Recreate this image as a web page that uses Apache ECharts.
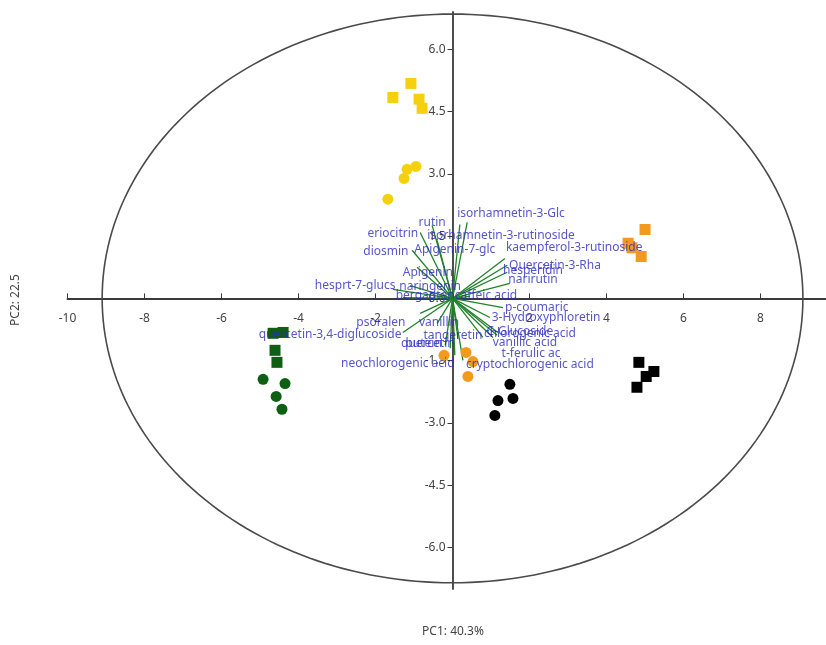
<!DOCTYPE html>
<html><head><meta charset="utf-8">
<script src="https://cdn.jsdelivr.net/npm/echarts@6/dist/echarts.min.js"></script>
<style>html,body{margin:0;padding:0;background:#fff}#c{width:826px;height:645px}</style>
</head><body><div id="c"></div>
<script>
// ---- Data ----
const xTicks = [-10, -8, -6, -4, -2, 2, 4, 6, 8];
const yTicks = [-6, -4.5, -3, -1.5, 0, 1.5, 3, 4.5, 6];
const xTickLabels = ['-10', '-8', '-6', '-4', '-2', '2', '4', '6', '8'];
const yTickLabels = ['-6.0', '-4.5', '-3.0', '-1.5', '0.0', '1.5', '3.0', '4.5', '6.0'];

const yellowSquares = [[-1.55, 4.84], [-1.08, 5.18], [-0.87, 4.80], [-0.79, 4.58]];
const yellowCircles = [[-0.95, 3.18], [-1.18, 3.11], [-1.26, 2.89], [-1.68, 2.39]];
const orangeSquares = [[5.00, 1.66], [4.56, 1.33], [4.66, 1.22], [4.90, 1.01]];
const orangeCircles = [[-0.22, -1.37], [0.35, -1.30], [0.53, -1.52], [0.40, -1.88]];
const blackSquares = [[4.84, -1.54], [5.23, -1.76], [5.03, -1.88], [4.79, -2.14]];
const blackCircles = [[1.49, -2.07], [1.57, -2.41], [1.18, -2.46], [1.10, -2.82]];
const greenSquares = [[-4.66, -0.84], [-4.40, -0.82], [-4.61, -1.25], [-4.56, -1.54]];
const greenCircles = [[-4.92, -1.95], [-4.35, -2.05], [-4.58, -2.36], [-4.43, -2.67]];

const loadingNames = ['isorhamnetin-3-Glc', 'rutin', 'isorhamnetin-3-rutinoside', 'eriocitrin', 'diosmin',
  'Apigenin-7-glc', 'kaempferol-3-rutinoside', 'Quercetin-3-Rha', 'hesperidin', 'narirutin',
  'Apigenin', 'hesprt-7-glucs', 'naringenin', 'bergapten', 'caffeic acid',
  'p-coumaric', '3-Hydroxyphloretin', 'psoralen', 'vanillin', 'quercetin-3,4-diglucoside',
  'tangeretin', 'quercetin', 'butein', 'chlorogenic acid', 'C-Glucoside',
  'vanillic acid', 't-ferulic ac', 'cryptochlorogenic acid', 'neochlorogenic acid'];
const loadingPC1 = [0.38, -0.53, 0.19, -0.84, -1.05, -0.40, 1.36, 1.42, 1.42, 1.49,
  -0.92, -1.55, -1.10, -1.29, 0.45, 1.31, 0.97, -0.84, -0.40, -1.29,
  0.14, -0.19, -0.06, 1.18, 1.05, 0.79, 1.16, 0.27, 0.06];
const loadingPC2 = [1.83, 1.76, 1.78, 1.59, 1.16, 1.40, 0.96, 0.80, 0.63, 0.36,
  0.75, 0.22, 0.31, 0.02, 0.05, -0.22, -0.46, -0.36, -0.60, -0.82,
  -0.96, -1.13, -1.20, -0.82, -0.94, -0.94, -0.89, -1.49, -1.37];
const labelPC1 = [1.52, -0.53, 1.26, -1.55, -1.73, 0.06, 3.16, 2.66, 2.09, 2.09,
  -0.64, -2.53, -0.58, -0.71, 0.87, 2.19, 2.43, -1.86, -0.35, -3.18,
  0.01, -0.64, -0.75, 2.01, 1.75, 1.88, 2.04, 2.01, -1.42];
const labelPC2 = [2.05, 1.83, 1.52, 1.57, 1.13, 1.18, 1.23, 0.80, 0.67, 0.46,
  0.63, 0.31, 0.29, 0.07, 0.07, -0.22, -0.46, -0.58, -0.58, -0.87,
  -0.89, -1.08, -1.08, -0.84, -0.80, -1.06, -1.33, -1.59, -1.57];

const ellipseRadiusPC1 = 9.1;
const ellipseRadiusPC2 = 6.85;

// ---- Chart ----
const FONT = '"Noto Sans", "Open Sans", sans-serif';
const chart = echarts.init(document.getElementById('c'), null, {renderer: 'canvas'});

const loadingLines = loadingNames.map((n, i) => [loadingPC1[i], loadingPC2[i]]);
const loadingLabels = loadingNames.map((n, i) => ({name: n, value: [labelPC1[i], labelPC2[i]]}));
const xLabelData = xTicks.map((v, i) => ({name: xTickLabels[i], value: [v, 0]}));
const yLabelData = yTicks.map((v, i) => ({name: yTickLabels[i], value: [0, v]}));

function scoreSeries(data, color, symbol) {
  return {
    type: 'scatter', data: data, symbol: symbol, symbolSize: 11, z: 3,
    itemStyle: {color: color, opacity: 1}
  };
}

const option = {
  animation: false,
  backgroundColor: '#fff',
  grid: {left: 67.5, right: 0, top: 12, bottom: 56, containLabel: false},
  xAxis: {
    type: 'value', min: -10, max: 9.7,
    axisLine: {onZero: true, lineStyle: {color: '#3a3a3a', width: 1.8}},
    axisTick: {show: true, inside: true, length: 5, customValues: xTicks, lineStyle: {color: '#3a3a3a', width: 1}},
    axisLabel: {show: false},
    splitLine: {show: false}
  },
  yAxis: {
    type: 'value', min: -7.0, max: 6.9,
    axisLine: {onZero: true, lineStyle: {color: '#3a3a3a', width: 1.8}},
    axisTick: {show: true, length: 5, customValues: yTicks, lineStyle: {color: '#3a3a3a', width: 1}},
    axisLabel: {show: false},
    splitLine: {show: false}
  },
  graphic: [
    {type: 'text', x: 453, y: 632, style: {text: 'PC1: 40.3%', fill: '#444', font: '12px ' + FONT, align: 'center', verticalAlign: 'middle'}},
    {type: 'text', x: 16, y: 300, rotation: Math.PI / 2, style: {text: 'PC2: 22.5', fill: '#444', font: '12px ' + FONT, align: 'center', verticalAlign: 'middle'}}
  ],
  series: [
    {
      type: 'custom', data: [[0, 0]], z: 1, silent: true,
      renderItem: function (params, api) {
        const pts = [];
        for (let k = 0; k <= 240; k++) {
          const t = k / 240 * Math.PI * 2;
          pts.push(api.coord([ellipseRadiusPC1 * Math.cos(t), ellipseRadiusPC2 * Math.sin(t)]));
        }
        return {type: 'polyline', shape: {points: pts}, style: {stroke: '#4a4a4a', lineWidth: 1.6, fill: null}};
      }
    },
    {
      type: 'custom', data: xLabelData, z: 2, silent: true,
      renderItem: function (params, api) {
        const p = api.coord([api.value(0), api.value(1)]);
        return {type: 'text', x: p[0], y: p[1] + 20, style: {text: xTickLabels[params.dataIndex], fill: '#444', font: '12px ' + FONT, align: 'center', verticalAlign: 'middle'}};
      }
    },
    {
      type: 'custom', data: yLabelData, z: 2, silent: true,
      renderItem: function (params, api) {
        const p = api.coord([api.value(0), api.value(1)]);
        return {type: 'text', x: p[0] - 7, y: p[1], style: {text: yTickLabels[params.dataIndex], fill: '#444', font: '12px ' + FONT, align: 'right', verticalAlign: 'middle'}};
      }
    },
    {
      type: 'custom', data: loadingLines, z: 2, silent: true,
      renderItem: function (params, api) {
        const o = api.coord([0, 0]);
        const p = api.coord([api.value(0), api.value(1)]);
        return {type: 'line', shape: {x1: o[0], y1: o[1], x2: p[0], y2: p[1]}, style: {stroke: '#22822a', lineWidth: 1.3}};
      }
    },
    scoreSeries(yellowSquares, '#F5D00C', 'rect'),
    scoreSeries(yellowCircles, '#F5D00C', 'circle'),
    scoreSeries(orangeSquares, '#F39A1E', 'rect'),
    scoreSeries(orangeCircles, '#F39A1E', 'circle'),
    scoreSeries(blackSquares, '#000000', 'rect'),
    scoreSeries(blackCircles, '#000000', 'circle'),
    scoreSeries(greenSquares, '#0E5E14', 'rect'),
    scoreSeries(greenCircles, '#0E5E14', 'circle'),
    {
      type: 'scatter', data: loadingLabels, symbolSize: 1, z: 4,
      itemStyle: {color: 'rgba(0,0,0,0)'},
      label: {show: true, position: 'inside', formatter: '{b}', color: '#2a2abf', fontSize: 12, fontFamily: FONT},
      emphasis: {disabled: true}
    }
  ]
};
chart.setOption(option);
</script></body></html>
